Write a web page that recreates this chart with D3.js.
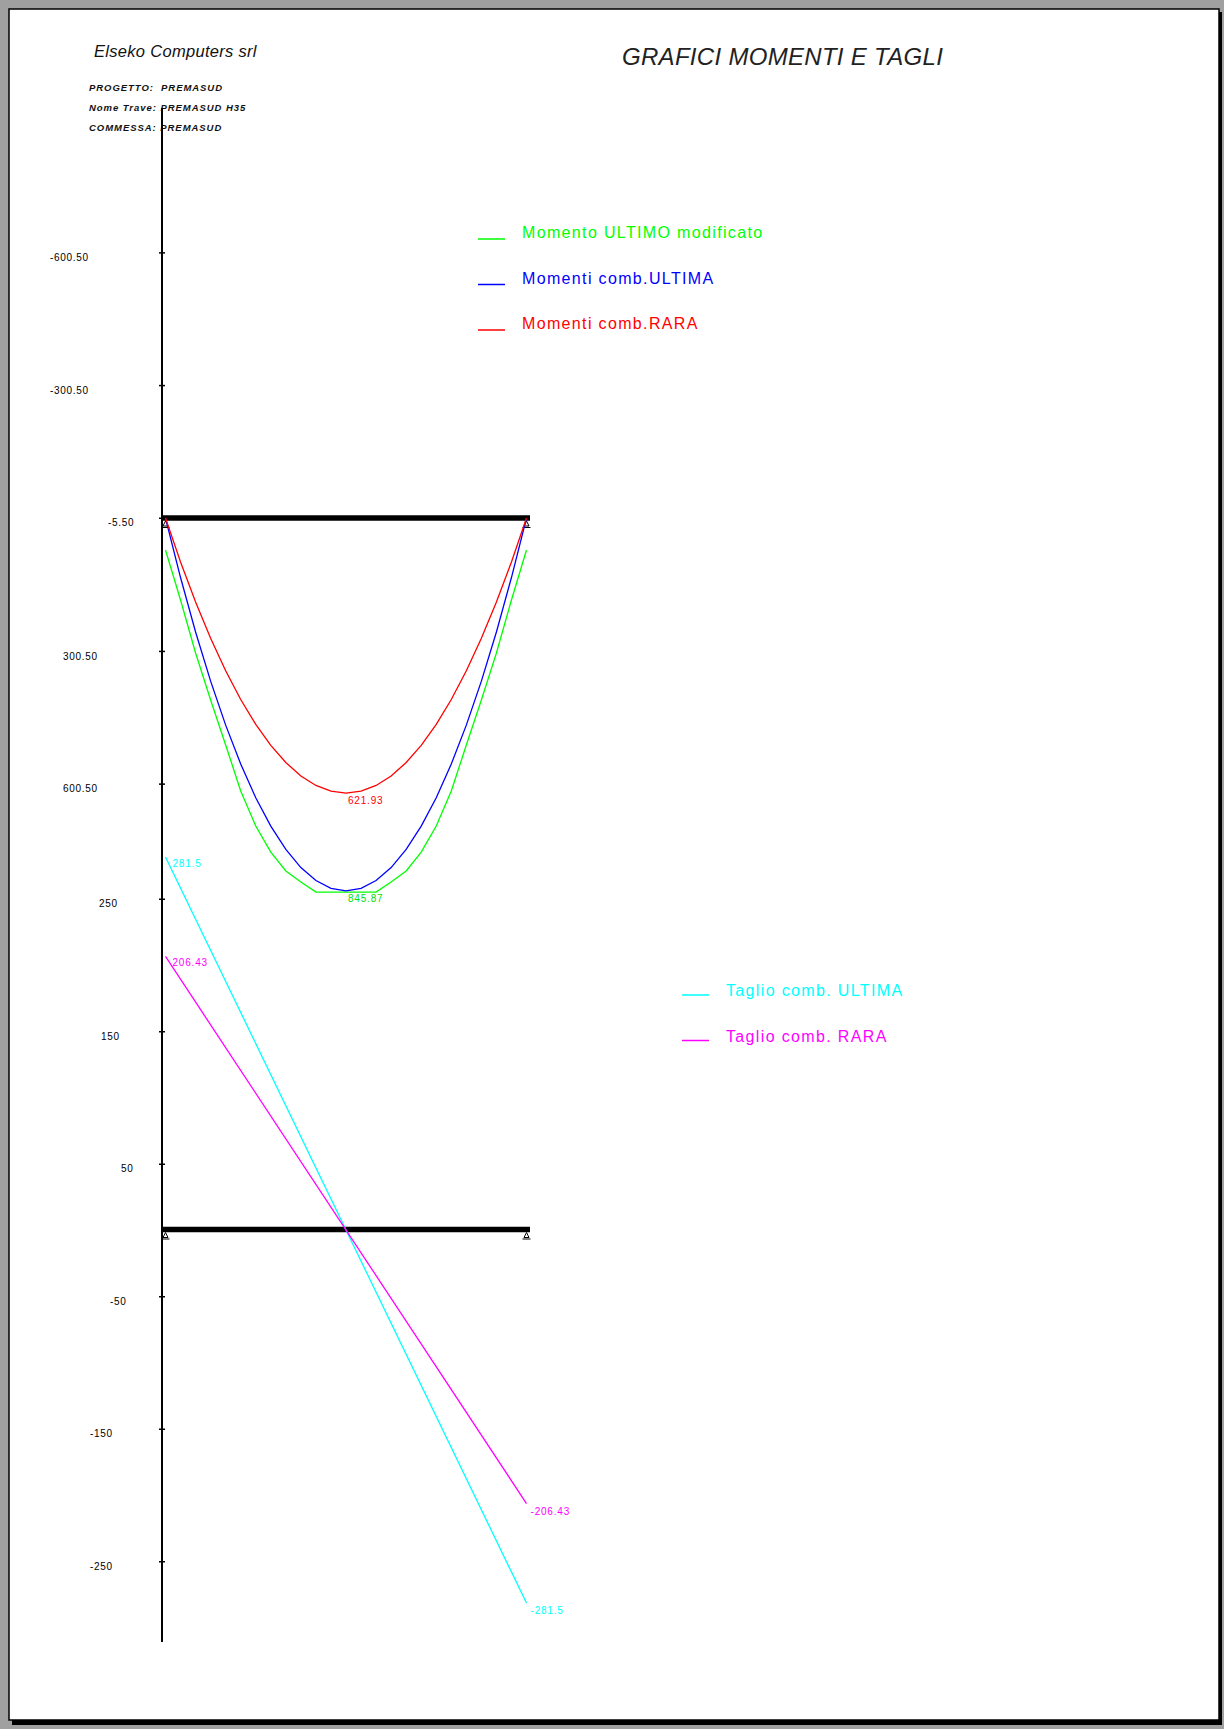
<!DOCTYPE html>
<html>
<head>
<meta charset="utf-8">
<script src="https://cdn.jsdelivr.net/npm/d3@7"></script>
<style>
  html, body { margin: 0; padding: 0; background: #a0a0a0; }
  svg { display: block; }
  text { font-family: "Liberation Sans", Arial, sans-serif; white-space: pre; }
</style>
</head>
<body>
<div class="chart"></div>
<script>
// stations along the beam (sections, 24 intervals)
var stations = [0, 1, 2, 3, 4, 5, 6, 7, 8, 9, 10, 11, 12, 13, 14, 15, 16, 17, 18, 19, 20, 21, 22, 23, 24];

// moments
var momUltimoMod = [72.3, 185.4, 305.2, 411.5, 513.2, 617.2, 696.4, 755.2, 798.1, 823.0, 845.87, 845.87, 845.87,
                    845.87, 845.87, 823.0, 798.1, 755.2, 696.4, 617.2, 513.2, 411.5, 305.2, 185.4, 72.3];
var momUltima    = [0, 134.6, 257.6, 368.8, 468.3, 556.1, 632.3, 696.6, 749.3, 790.3, 819.6, 837.1, 843.0,
                    837.1, 819.6, 790.3, 749.3, 696.6, 632.3, 556.1, 468.3, 368.8, 257.6, 134.6, 0];
var momRara      = [0, 99.3, 190.0, 272.1, 345.5, 410.3, 466.4, 514.0, 552.8, 583.1, 604.7, 617.6, 621.93,
                    617.6, 604.7, 583.1, 552.8, 514.0, 466.4, 410.3, 345.5, 272.1, 190.0, 99.3, 0];

// shears (straight lines, end values)
var shearStations = [0, 24];
var taglioUltima = [281.5, -281.5];
var taglioRara   = [206.43, -206.43];

// axis ticks
var momTicks = [-600.5, -300.5, -0.5, 300.5, 600.5];
var momTickLabels = ["-600.50", "-300.50", "-5.50", "300.50", "600.50"];
var shearTicks = [250, 150, 50, -50, -150, -250];

var momLegend = ["Momento ULTIMO modificato", "Momenti comb.ULTIMA", "Momenti comb.RARA"];
var shearLegend = ["Taglio comb. ULTIMA", "Taglio comb. RARA"];

var w = 1224;
var h = 1729;
var axisX = 162;
var last = stations[stations.length - 1];
// left edge of the tick labels (the original program places them unevenly)
var momLabelLeft = [50, 50, 108, 63, 63];
var shearLabelLeft = [99, 101, 121, 110, 90, 90];

var svg = d3.select(".chart")
            .append("svg")
            .attr("width", w)
            .attr("height", h);

// page frame
svg.append("rect").attr("x", 0).attr("y", 0).attr("width", w).attr("height", h).attr("fill", "#a0a0a0");
svg.append("rect").attr("x", 12).attr("y", 12).attr("width", 1210).attr("height", 1713).attr("fill", "#000");
svg.append("rect").attr("x", 9).attr("y", 9).attr("width", 1210).attr("height", 1711)
   .attr("fill", "#fff").attr("stroke", "#000").attr("stroke-width", 1.5);

// header
svg.append("text").attr("x", 94).attr("y", 57).attr("font-size", 16.5).attr("font-style", "italic")
   .attr("letter-spacing", 0.3).attr("fill", "#111").text("Elseko Computers srl");
svg.append("text").attr("x", 622).attr("y", 65).attr("font-size", 24).attr("font-style", "italic")
   .attr("letter-spacing", 0.3).attr("fill", "#222").text("GRAFICI MOMENTI E TAGLI");
var info = ["PROGETTO:  PREMASUD", "Nome Trave: PREMASUD H35", "COMMESSA: PREMASUD"];
svg.selectAll(".info").data(info).enter().append("text")
   .attr("class", "info")
   .attr("x", 89).attr("y", (d, i) => 91 + i * 20)
   .attr("font-size", 9.5).attr("font-weight", "bold").attr("font-style", "italic")
   .attr("letter-spacing", 0.95)
   .attr("fill", "#111").text((d) => d);

// scales
var xScale = d3.scaleLinear().domain([0, last]).range([165.5, 526.5]);
var yMom = d3.scaleLinear().domain([0, 600]).range([518, 783.4]);
var yShear = d3.scaleLinear().domain([0, 250]).range([1230, 898.75]);

// vertical axis line
svg.append("line").attr("x1", axisX).attr("x2", axisX).attr("y1", 108).attr("y2", 1642)
   .attr("stroke", "#000").attr("stroke-width", 2);

function styleAxis(g, labels, lefts) {
  g.select(".domain").remove();
  g.selectAll(".tick line").attr("stroke", "#000").attr("stroke-width", 1.5);
  g.selectAll(".tick text")
   .attr("text-anchor", "start")
   .attr("font-size", 10)
   .attr("letter-spacing", 0.7)
   .attr("fill", "#000")
   .attr("dy", "0.32em")
   .attr("y", 5)
   .attr("x", (d, i) => lefts[i] - axisX - 3)
   .text((d, i) => labels ? labels[i] : String(d));
}

svg.append("g")
   .attr("transform", "translate(" + (axisX + 3) + ",0)")
   .call(d3.axisLeft(yMom).tickValues(momTicks).tickSize(6))
   .call(styleAxis, momTickLabels, momLabelLeft);

svg.append("g")
   .attr("transform", "translate(" + (axisX + 3) + ",0)")
   .call(d3.axisLeft(yShear).tickValues(shearTicks).tickSize(6))
   .call(styleAxis, null, shearLabelLeft);

// beams + supports
function beam(y0) {
  var x0 = xScale(0) - 3, x1 = xScale(last) + 3.5;
  svg.append("line").attr("x1", x0).attr("x2", x1).attr("y1", y0).attr("y2", y0)
     .attr("stroke", "#000").attr("stroke-width", 5.5);
  [xScale(0), xScale(last)].forEach(function(sx) {
    svg.append("path")
       .attr("d", "M" + sx + "," + (y0 + 3) + " L" + (sx - 2.5) + "," + (y0 + 8) + " L" + (sx + 2.5) + "," + (y0 + 8) + " Z"
             + " M" + (sx - 4) + "," + (y0 + 9.5) + " L" + (sx + 4) + "," + (y0 + 9.5))
       .attr("fill", "none").attr("stroke", "#000").attr("stroke-width", 1);
  });
}

beam(yMom(0));
beam(yShear(0) - 0.5);

// moment curves
var momLine = d3.line().x((d) => xScale(d[0])).y((d) => yMom(d[1]));
var momSeries = [
  {values: momUltimoMod, color: "#00ff00"},
  {values: momUltima, color: "#0000ff"},
  {values: momRara, color: "#ff0000"}
];
momSeries.forEach(function(s) {
  svg.append("path")
     .datum(stations.map((st, i) => [st, s.values[i]]))
     .attr("d", momLine)
     .attr("fill", "none").attr("stroke", s.color).attr("stroke-width", 1.3);
});

// max labels
var mid = last / 2;
svg.append("text").attr("x", xScale(mid) + 2).attr("y", yMom(d3.max(momRara)) + 11)
   .attr("font-size", 10).attr("letter-spacing", 0.8)
   .attr("fill", "#ff0000").text(d3.max(momRara).toFixed(2));
svg.append("text").attr("x", xScale(mid) + 2).attr("y", yMom(d3.max(momUltimoMod)) + 10)
   .attr("font-size", 10).attr("letter-spacing", 0.8)
   .attr("fill", "#00e000").text(d3.max(momUltimoMod).toFixed(2));

// shear lines
var shearLine = d3.line().x((d) => xScale(d[0])).y((d) => yShear(d[1]));
var shearSeries = [
  {values: taglioUltima, color: "#00ffff"},
  {values: taglioRara, color: "#ff00ff"}
];
shearSeries.forEach(function(s) {
  svg.append("path")
     .datum(shearStations.map((st, i) => [st, s.values[i]]))
     .attr("d", shearLine)
     .attr("fill", "none").attr("stroke", s.color).attr("stroke-width", 1.3);
  svg.append("text").attr("x", xScale(0) + 7).attr("y", yShear(s.values[0]) + 10)
     .attr("font-size", 10).attr("letter-spacing", 0.8)
     .attr("fill", s.color).text(String(s.values[0]));
  svg.append("text").attr("x", xScale(last) + 4).attr("y", yShear(s.values[1]) + 11)
     .attr("font-size", 10).attr("letter-spacing", 0.8)
     .attr("fill", s.color).text(String(s.values[1]));
});

// legends
function legend(names, colors, x, y0, dy, lineDy) {
  names.forEach(function(n, i) {
    var y = y0 + i * dy;
    svg.append("line").attr("x1", x).attr("x2", x + 27).attr("y1", y + lineDy).attr("y2", y + lineDy)
       .attr("stroke", colors[i]).attr("stroke-width", 1.5);
    svg.append("text").attr("x", x + 44).attr("y", y)
       .attr("font-size", 16).attr("letter-spacing", 1.35)
       .attr("fill", colors[i]).text(n);
  });
}
legend(momLegend, ["#00ff00", "#0000ff", "#ff0000"], 478, 238, 45.5, 1);
legend(shearLegend, ["#00ffff", "#ff00ff"], 682, 996, 45.5, -1);
</script>
</body>
</html>
